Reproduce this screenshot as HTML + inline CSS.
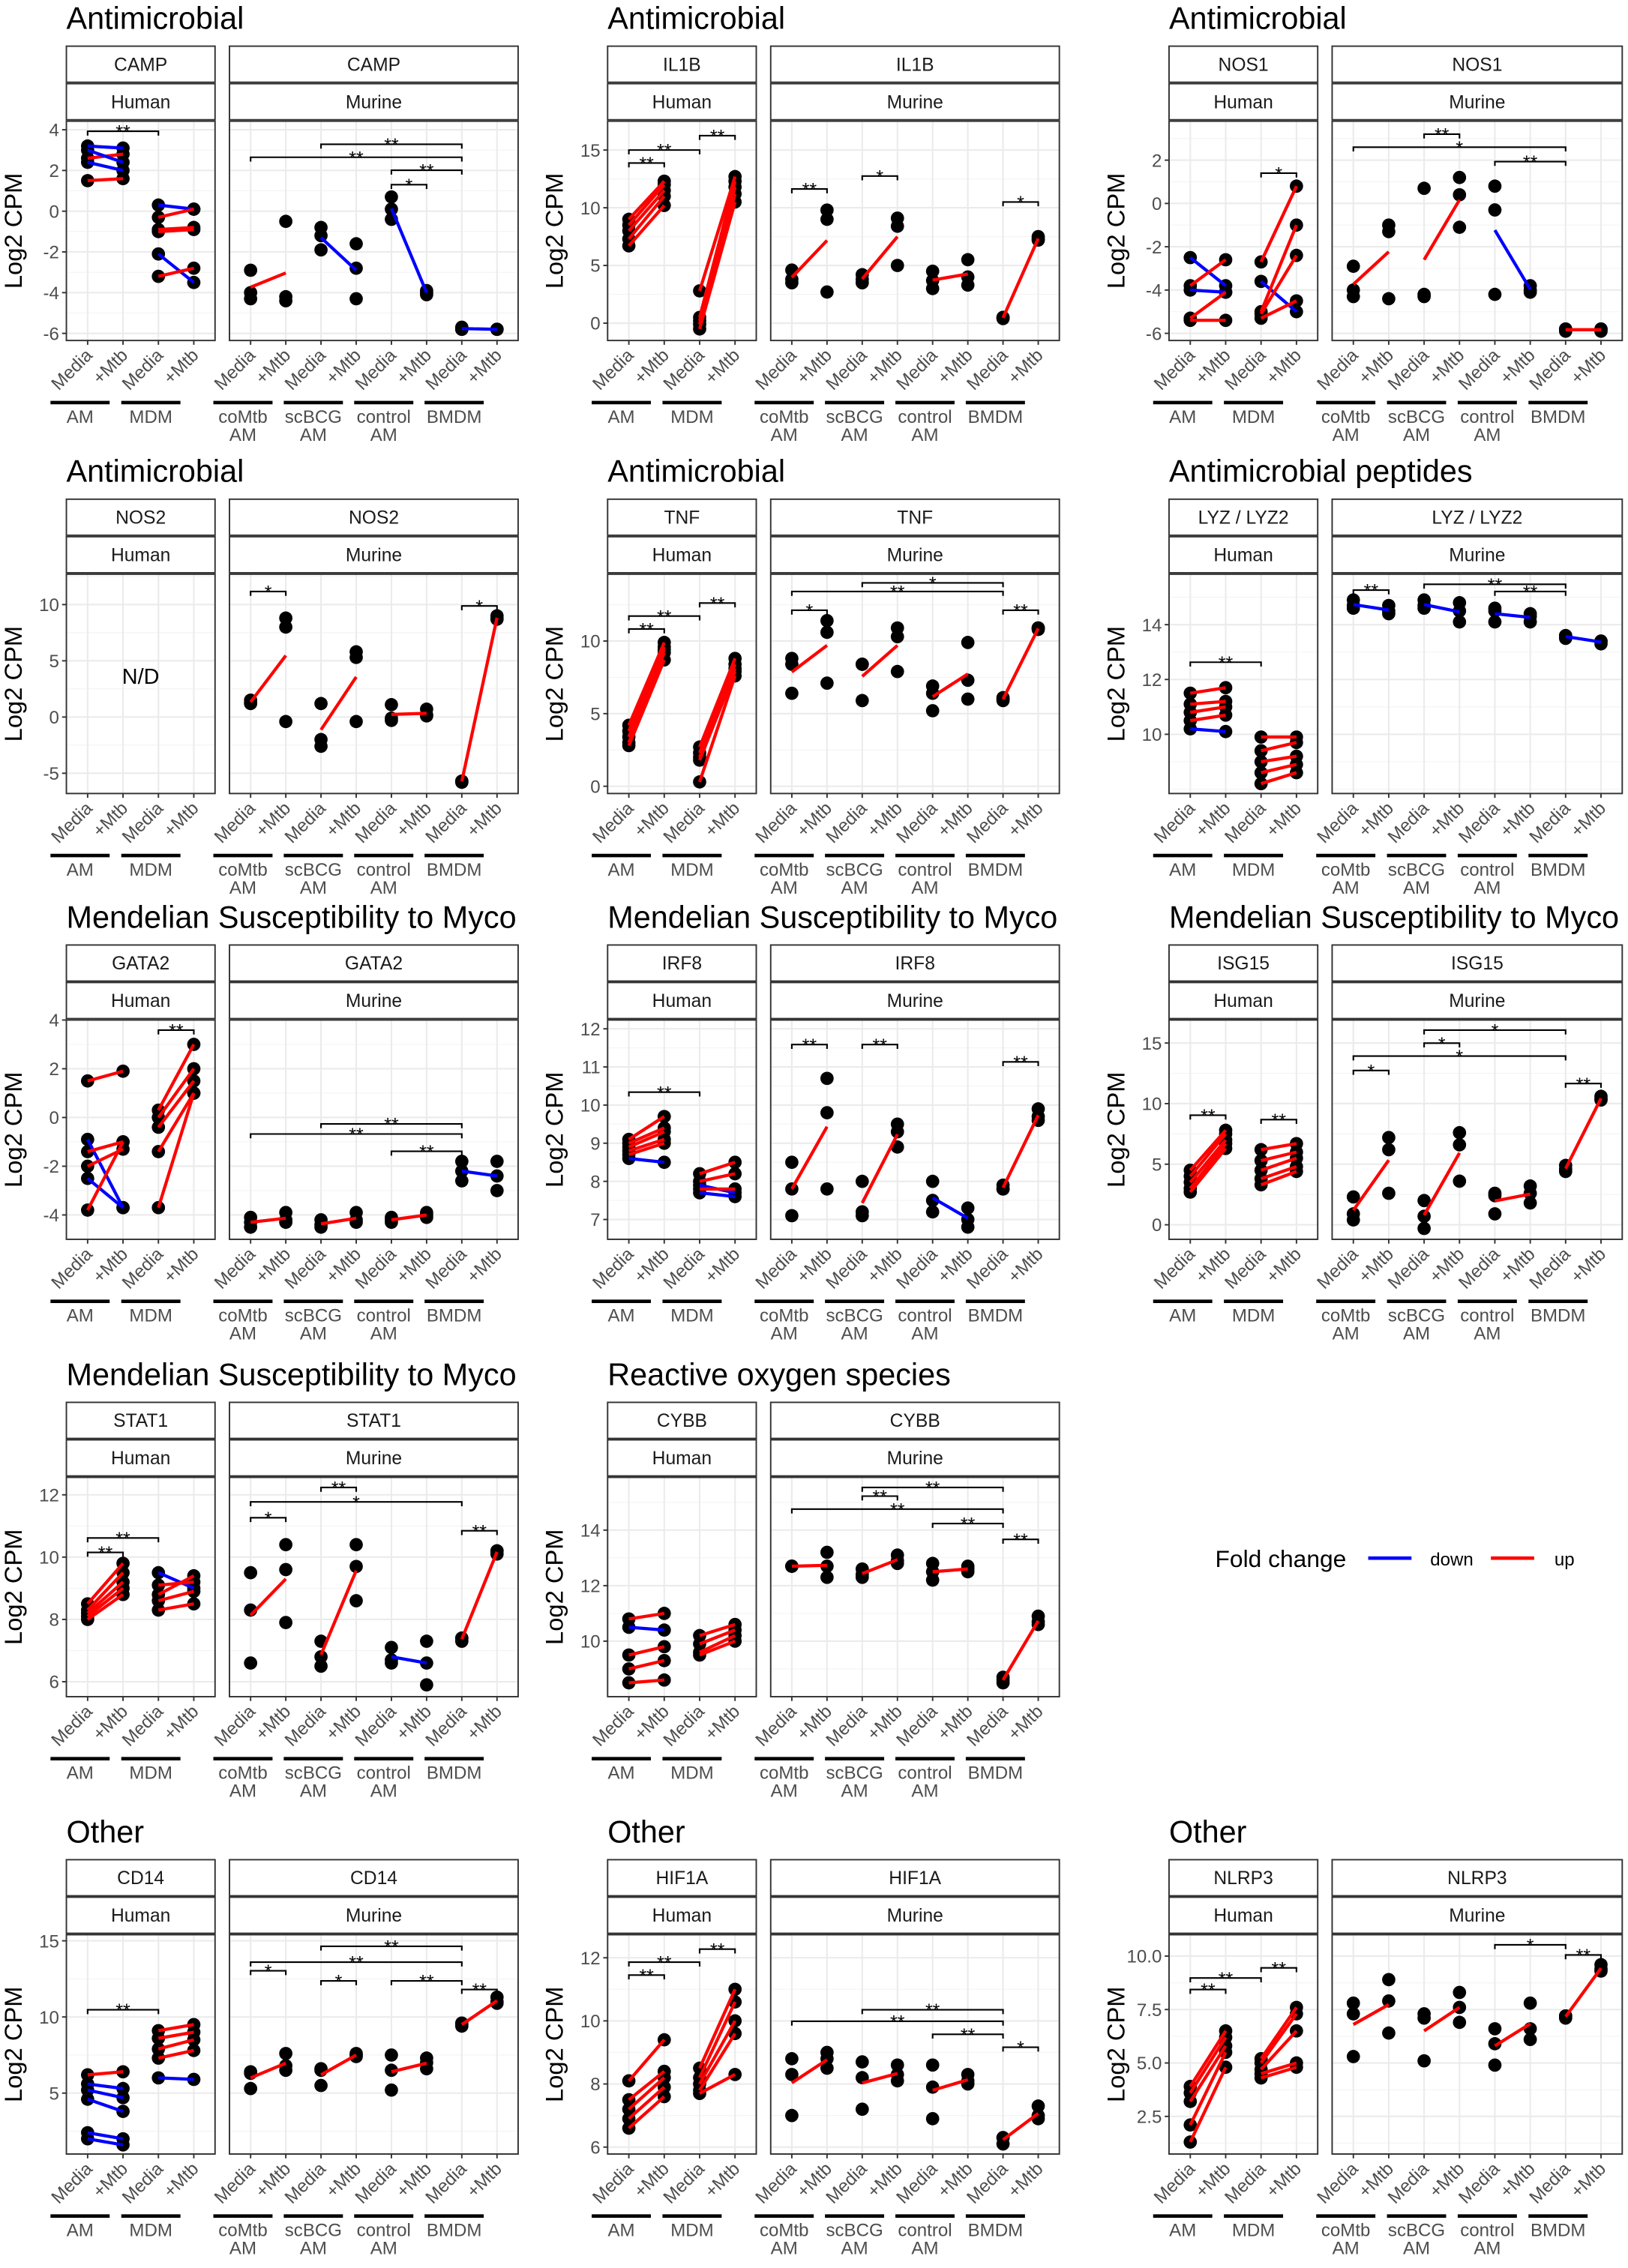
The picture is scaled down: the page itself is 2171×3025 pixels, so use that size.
<!DOCTYPE html>
<html><head><meta charset="utf-8"><style>
html,body{margin:0;padding:0;background:#fff;}
svg{display:block;}
text{font-family:"Liberation Sans",Arial,sans-serif;}
</style></head><body>
<svg id="fig" xmlns="http://www.w3.org/2000/svg" width="2171" height="3025" viewBox="0 0 1128 1572" preserveAspectRatio="none"></svg>
<script>
// ===== DATA =====
// human arrays: [AM Media, AM +Mtb, MDM Media, MDM +Mtb] (paired by donor index)
// murine arrays: 8 groups: coMtb Media, coMtb +Mtb, scBCG Media, scBCG +Mtb, control Media, control +Mtb, BMDM Media, BMDM +Mtb
const CAMP_ticks=[4,2,0,-2,-4,-6];
const CAMP_human=[[3.2,2.6,2.4,3.0,1.5],[3.1,2.8,2.0,2.4,1.6],[0.3,-0.3,-0.9,-1.0,-2.1,-3.2],[0.1,0.1,-0.8,-0.9,-3.5,-2.8]];
const CAMP_murine=[[-2.9,-4.0,-4.3],[-0.5,-4.2,-4.4],[-0.8,-1.2,-1.9],[-1.6,-2.8,-4.3],[0.7,0.1,-0.4],[-3.9,-4.0,-4.1],[-5.7,-5.8,-5.8],[-5.8,-5.8,-5.8]];
const CAMP_brk_h=[[0,2,7,'**']];
const CAMP_brk_m=[[2,6,16,'**'],[0,6,25,'**'],[4,6,34,'**'],[4,5,44,'*']];

const IL1B_ticks=[15,10,5,0];
const IL1B_human=[[9,8.5,8,7.3,6.7],[12.3,12,11.5,11,10.2],[2.8,0.5,0.2,-0.1,-0.5],[12.7,12.3,11.8,11.2,10.5]];
const IL1B_murine=[[4.6,3.8,3.5],[9.8,9.0,2.7],[4.2,3.8,3.5],[9.1,8.4,5.0],[4.5,3.7,3.0],[5.5,4.0,3.3],[0.5,0.4,0.5],[7.5,7.2,7.3]];
const IL1B_brk_h=[[0,1,29,'**'],[0,2,20,'**'],[2,3,10,'**']];
const IL1B_brk_m=[[0,1,47,'**'],[2,3,38,'*'],[6,7,56,'*']];

const NOS1_ticks=[2,0,-2,-4,-6];
const NOS1_human=[[-2.5,-3.8,-4.0,-5.3,-5.4],[-3.8,-2.6,-4.1,-4.1,-5.4],[-2.7,-3.6,-5.0,-5.1,-5.3],[0.8,-5.0,-1.0,-2.4,-4.5]];
const NOS1_murine=[[-2.9,-4.0,-4.3],[-1.0,-1.3,-4.4],[0.7,-4.2,-4.3],[1.2,0.4,-1.1],[0.8,-0.3,-4.2],[-3.8,-4.0,-4.1],[-5.8,-5.9,-5.8],[-5.8,-5.8,-5.9]];
const NOS1_brk_h=[[2,3,36,'*']];
const NOS1_brk_m=[[2,3,9,'**'],[0,6,18,'*'],[4,6,28,'**']];

const NOS2_ticks=[10,5,0,-5];
const NOS2_human=[[],[],[],[]];
const NOS2_murine=[[1.5,1.2,1.3],[8.8,8.0,-0.4],[1.2,-2.0,-2.6],[5.8,5.3,-0.4],[1.1,-0.1,-0.3],[0.7,0.2,0.1],[-5.7,-5.8,-5.7],[9.0,8.7,8.8]];
const NOS2_brk_h=[];
const NOS2_brk_m=[[0,1,12,'*'],[6,7,22,'*']];

const TNF_ticks=[10,5,0];
const TNF_human=[[4.2,3.8,3.4,3.0,2.8],[9.9,9.6,9.4,9.2,8.7],[2.7,2.3,2.0,1.8,0.3],[8.8,8.4,8.1,7.9,7.6]];
const TNF_murine=[[8.8,8.4,6.4],[11.4,10.6,7.1],[8.4,8.4,5.9],[10.9,10.3,7.9],[6.9,6.4,5.2],[9.9,7.3,6.0],[6.0,5.9,6.1],[10.9,10.8,10.9]];
const TNF_brk_h=[[0,1,38,'**'],[0,2,29,'**'],[2,3,20,'**']];
const TNF_brk_m=[[0,1,25,'*'],[2,6,6,'*'],[0,6,12,'**'],[6,7,25,'**']];

const LYZ_ticks=[14,12,10];
const LYZ_human=[[11.5,11.1,10.8,10.5,10.2],[11.7,11.2,11.0,10.7,10.1],[9.9,9.4,9.0,8.6,8.2],[9.9,9.7,9.2,8.9,8.6]];
const LYZ_murine=[[14.9,14.7,14.6],[14.7,14.5,14.4],[14.9,14.7,14.6],[14.8,14.5,14.1],[14.6,14.5,14.1],[14.4,14.3,14.1],[13.6,13.5,13.6],[13.4,13.3,13.4]];
const LYZ_brk_h=[[0,2,61,'**']];
const LYZ_brk_m=[[0,1,11,'**'],[2,6,7,'**'],[4,6,12,'**']];

const GATA2_ticks=[4,2,0,-2,-4];
const GATA2_human=[[1.5,-0.9,-1.4,-2.0,-2.5,-3.8],[1.9,-3.7,-1.0,-1.3,-3.7,-1.0],[0.3,0.0,-0.4,-1.4,-3.7],[3.0,2.0,1.5,1.0,1.0]];
const GATA2_murine=[[-4.1,-4.3,-4.5],[-3.9,-4.2,-4.3],[-4.2,-4.5,-4.4],[-3.9,-4.2,-4.3],[-4.1,-4.2,-4.3],[-3.9,-4.0,-4.1],[-1.8,-2.2,-2.6],[-1.8,-2.4,-3.0]];
const GATA2_brk_h=[[2,3,7,'**']];
const GATA2_brk_m=[[2,6,72,'**'],[0,6,79,'**'],[4,6,91,'**']];

const IRF8_ticks=[12,11,10,9,8,7];
const IRF8_human=[[9.1,9.0,8.9,8.8,8.7,8.6],[9.7,9.4,9.3,9.1,9.0,8.5],[8.2,8.0,7.9,7.8,7.7],[8.5,8.2,7.7,7.8,7.6]];
const IRF8_murine=[[8.5,7.8,7.1],[10.7,9.8,7.8],[8.0,7.2,7.1],[9.5,9.3,8.9],[8.0,7.5,7.2],[7.3,7.0,6.8],[7.9,7.8,7.8],[9.9,9.7,9.6]];
const IRF8_brk_h=[[0,2,50,'**']];
const IRF8_brk_m=[[0,1,17,'**'],[2,3,17,'**'],[6,7,29,'**']];

const ISG15_ticks=[15,10,5,0];
const ISG15_human=[[4.5,4.0,3.5,3.0,2.7],[7.8,7.5,7.0,6.7,6.3],[6.2,5.3,4.5,3.8,3.3],[6.7,6.0,5.5,4.8,4.4]];
const ISG15_murine=[[2.3,0.9,0.4],[7.2,6.2,2.6],[2.0,0.7,-0.3],[7.6,6.6,3.6],[2.6,2.4,0.9],[3.2,2.6,1.8],[4.9,4.6,4.4],[10.6,10.4,10.3]];
const ISG15_brk_h=[[0,1,66,'**'],[2,3,69,'**']];
const ISG15_brk_m=[[2,6,7,'*'],[2,3,16,'*'],[0,6,25,'*'],[0,1,35,'*'],[6,7,44,'**']];

const STAT1_ticks=[12,10,8,6];
const STAT1_human=[[8.5,8.3,8.2,8.1,8.0],[9.8,9.5,9.2,9.0,8.8],[9.5,9.1,8.8,8.6,8.3],[9.0,9.2,9.4,8.9,8.5]];
const STAT1_murine=[[9.5,8.3,6.6],[10.4,9.6,7.9],[7.3,6.8,6.5],[10.4,9.7,8.6],[7.1,6.7,6.6],[7.3,6.6,5.9],[7.4,7.3,7.4],[10.2,10.2,10.1]];
const STAT1_brk_h=[[0,1,52,'**'],[0,2,42,'**']];
const STAT1_brk_m=[[2,3,7,'**'],[0,6,17,'*'],[0,1,28,'*'],[6,7,37,'**']];

const CYBB_ticks=[14,12,10];
const CYBB_human=[[10.8,10.5,9.5,9.0,8.5],[11.0,10.4,9.8,9.3,8.6],[10.2,9.9,9.6,9.5],[10.6,10.4,10.2,10.0]];
const CYBB_murine=[[12.7,12.7,12.7],[13.2,12.7,12.3],[12.6,12.4,12.3],[13.1,12.9,12.8],[12.8,12.5,12.2],[12.7,12.6,12.5],[8.7,8.6,8.5],[10.9,10.6,10.7]];
const CYBB_brk_h=[];
const CYBB_brk_m=[[2,6,7,'**'],[2,3,13,'**'],[0,6,22,'**'],[4,6,32,'**'],[6,7,43,'**']];

const CD14_ticks=[15,10,5];
const CD14_human=[[6.2,5.6,5.2,4.6,2.4,2.0],[6.4,5.3,4.7,3.8,2.0,1.6],[9.1,8.6,7.9,7.3,6.0],[9.5,9.0,8.5,7.8,5.9]];
const CD14_murine=[[6.4,6.3,5.3],[7.6,6.8,6.5],[6.6,6.5,5.5],[7.6,7.5,7.4],[7.5,6.5,5.2],[7.3,7.0,6.6],[9.6,9.5,9.4],[11.3,11.0,10.9]];
const CD14_brk_h=[[0,2,52,'**']];
const CD14_brk_m=[[2,6,8,'**'],[0,6,19,'**'],[0,1,25,'*'],[2,3,32,'*'],[4,6,32,'**'],[6,7,38,'**']];

const HIF1A_ticks=[12,10,8,6];
const HIF1A_human=[[8.1,7.5,7.2,6.9,6.6],[9.4,8.4,8.2,7.9,7.6],[8.5,8.2,8.0,7.8,7.7],[11.0,10.6,10.0,9.6,8.3]];
const HIF1A_murine=[[8.8,8.3,7.0],[9.0,8.8,8.5],[8.7,8.2,7.2],[8.6,8.3,8.1],[8.6,7.9,6.9],[8.3,8.1,8.0],[6.3,6.1,6.3],[7.3,7.0,6.9]];
const HIF1A_brk_h=[[0,1,28,'**'],[0,2,19,'**'],[2,3,10,'**']];
const HIF1A_brk_m=[[2,6,52,'**'],[0,6,60,'**'],[4,6,69,'**'],[6,7,78,'*']];

const NLRP3_ticks=[10.0,7.5,5.0,2.5];
const NLRP3_human=[[3.9,3.6,3.2,2.1,1.3],[6.5,6.2,5.8,5.5,4.8],[5.2,5.0,4.7,4.5,4.3],[7.6,7.3,6.5,5.0,4.8]];
const NLRP3_murine=[[7.8,7.3,5.3],[8.9,7.9,6.4],[7.3,7.1,5.1],[8.3,7.6,6.9],[6.6,5.9,4.9],[7.8,6.6,6.1],[7.2,7.1,7.2],[9.6,9.4,9.3]];
const NLRP3_brk_h=[[0,1,38,'**'],[0,2,30,'**'],[2,3,23,'**']];
const NLRP3_brk_m=[[4,6,7,'*'],[6,7,14,'**']];

// ===== LAYOUT =====
const NS='http://www.w3.org/2000/svg';
const svg=document.getElementById('fig');
const COLS=[[46,149,159,359],[421,524,534,734],[810,913,923,1124]];
const ROWS=[32,346,655,972,1289];
const charts=[
 {c:0,r:0,title:'Antimicrobial',gene:'CAMP',t:CAMP_ticks,lo:-6.35,hi:4.42,h:CAMP_human,m:CAMP_murine,bh:CAMP_brk_h,bm:CAMP_brk_m,fmt:0},
 {c:1,r:0,title:'Antimicrobial',gene:'IL1B',t:IL1B_ticks,lo:-1.5,hi:17.5,h:IL1B_human,m:IL1B_murine,bh:IL1B_brk_h,bm:IL1B_brk_m,fmt:0},
 {c:2,r:0,title:'Antimicrobial',gene:'NOS1',t:NOS1_ticks,lo:-6.33,hi:3.8,h:NOS1_human,m:NOS1_murine,bh:NOS1_brk_h,bm:NOS1_brk_m,fmt:0},
 {c:0,r:1,title:'Antimicrobial',gene:'NOS2',t:NOS2_ticks,lo:-6.8,hi:12.7,h:NOS2_human,m:NOS2_murine,bh:NOS2_brk_h,bm:NOS2_brk_m,fmt:0,nd:true},
 {c:1,r:1,title:'Antimicrobial',gene:'TNF',t:TNF_ticks,lo:-0.5,hi:14.6,h:TNF_human,m:TNF_murine,bh:TNF_brk_h,bm:TNF_brk_m,fmt:0},
 {c:2,r:1,title:'Antimicrobial peptides',gene:'LYZ / LYZ2',t:LYZ_ticks,lo:7.84,hi:15.84,h:LYZ_human,m:LYZ_murine,bh:LYZ_brk_h,bm:LYZ_brk_m,fmt:0},
 {c:0,r:2,title:'Mendelian Susceptibility to Myco',gene:'GATA2',t:GATA2_ticks,lo:-5,hi:4.0,h:GATA2_human,m:GATA2_murine,bh:GATA2_brk_h,bm:GATA2_brk_m,fmt:0},
 {c:1,r:2,title:'Mendelian Susceptibility to Myco',gene:'IRF8',t:IRF8_ticks,lo:6.48,hi:12.23,h:IRF8_human,m:IRF8_murine,bh:IRF8_brk_h,bm:IRF8_brk_m,fmt:0},
 {c:2,r:2,title:'Mendelian Susceptibility to Myco',gene:'ISG15',t:ISG15_ticks,lo:-1.2,hi:16.9,h:ISG15_human,m:ISG15_murine,bh:ISG15_brk_h,bm:ISG15_brk_m,fmt:0},
 {c:0,r:3,title:'Mendelian Susceptibility to Myco',gene:'STAT1',t:STAT1_ticks,lo:5.52,hi:12.56,h:STAT1_human,m:STAT1_murine,bh:STAT1_brk_h,bm:STAT1_brk_m,fmt:0},
 {c:1,r:3,title:'Reactive oxygen species',gene:'CYBB',t:CYBB_ticks,lo:8.0,hi:15.9,h:CYBB_human,m:CYBB_murine,bh:CYBB_brk_h,bm:CYBB_brk_m,fmt:0},
 {c:0,r:4,title:'Other',gene:'CD14',t:CD14_ticks,lo:1.0,hi:15.4,h:CD14_human,m:CD14_murine,bh:CD14_brk_h,bm:CD14_brk_m,fmt:0},
 {c:1,r:4,title:'Other',gene:'HIF1A',t:HIF1A_ticks,lo:5.78,hi:12.73,h:HIF1A_human,m:HIF1A_murine,bh:HIF1A_brk_h,bm:HIF1A_brk_m,fmt:0},
 {c:2,r:4,title:'Other',gene:'NLRP3',t:NLRP3_ticks,lo:0.74,hi:11.0,h:NLRP3_human,m:NLRP3_murine,bh:NLRP3_brk_h,bm:NLRP3_brk_m,fmt:1},
];
const PH=152;
function el(tag,attrs,parent,txt){const e=document.createElementNS(NS,tag);for(const k in attrs)e.setAttribute(k,attrs[k]);if(txt!==undefined)e.textContent=txt;(parent||svg).appendChild(e);return e;}
const mean=a=>a.reduce((s,v)=>s+v,0)/a.length;
const RED='#ff0000',BLUE='#0000ff';

charts.forEach(ch=>{
  const [hx0,hx1,mx0,mx1]=COLS[ch.c];
  const T=ROWS[ch.r], top=T+52, bot=top+PH;
  const gname=ch.gene.toLowerCase().replace(/[^a-z0-9]+/g,'-');
  const g=el('g',{});
  
  
  const yS=v=>top+(ch.hi-v)/(ch.hi-ch.lo)*PH;
  const xH=i=>hx0+(i+0.6)/4.2*(hx1-hx0);
  const xM=i=>mx0+(i+0.6)/8.2*(mx1-mx0);
  // title
  const tt=el('text',{x:hx0,y:T-12,'font-size':21.5,fill:'#000'},g,ch.title);
  
  
  const step=ch.t.length>1?ch.t[0]-ch.t[1]:1;
  [[hx0,hx1,xH,4,'Human',ch.h,ch.bh],[mx0,mx1,xM,8,'Murine',ch.m,ch.bm]].forEach(([x0,x1,xf,n,sp,data,brks])=>{
    const pg=el('g',{},g);
    
    
    // strips
    el('rect',{x:x0,y:T,width:x1-x0,height:25,fill:'#fff',stroke:'#333','stroke-width':1},pg);
    el('text',{x:(x0+x1)/2,y:T+17,'text-anchor':'middle','font-size':12.8,fill:'#1a1a1a'},pg,ch.gene);
    el('rect',{x:x0,y:T+26,width:x1-x0,height:25,fill:'#fff',stroke:'#333','stroke-width':1},pg);
    el('text',{x:(x0+x1)/2,y:T+43,'text-anchor':'middle','font-size':12.8,fill:'#1a1a1a'},pg,sp);
    // panel bg
    el('rect',{x:x0,y:top,width:x1-x0,height:PH,fill:'#fff'},pg);
    // grid minor
    const tmin=Math.min(...ch.t)-step, tmax=Math.max(...ch.t)+step;
    for(let v=tmin;v<=tmax+1e-9;v+=step/2){
      const y=yS(v); if(y<top||y>bot) continue;
      const major=ch.t.some(t=>Math.abs(t-v)<1e-9);
      el('line',{x1:x0,x2:x1,y1:y,y2:y,stroke:major?'#ebebeb':'#f4f4f4','stroke-width':major?1.1:0.6},pg);
    }
    for(let i=0;i<n;i++) el('line',{x1:xf(i),x2:xf(i),y1:top,y2:bot,stroke:'#ebebeb','stroke-width':1.1},pg);
    // points
    data.forEach((arr,i)=>arr.forEach(v=>{
      const p=el('circle',{cx:xf(i),cy:yS(v),r:4.6,fill:'#000'},pg);
      
      
    }));
    // lines
    if(sp==='Human'){
      [0,2].forEach(k=>{
        const a=data[k],b=data[k+1];
        for(let j=0;j<Math.min(a.length,b.length);j++){
          const ln=el('line',{x1:xf(k),y1:yS(a[j]),x2:xf(k+1),y2:yS(b[j]),stroke:b[j]>=a[j]?RED:BLUE,'stroke-width':2.2},pg);
          
          
        }
      });
    } else {
      [0,2,4,6].forEach(k=>{
        const a=mean(data[k]),b=mean(data[k+1]);
        const ln=el('line',{x1:xf(k),y1:yS(a),x2:xf(k+1),y2:yS(b),stroke:b>=a?RED:BLUE,'stroke-width':2.2},pg);
        
        
      });
    }
    // brackets
    brks.forEach(([i,j,off,lab])=>{
      const y=top+off, xa=xf(i), xb=xf(j);
      const bg=el('g',{},pg);
      
      
      el('path',{d:`M${xa},${y+3}V${y}H${xb}V${y+3}`,fill:'none',stroke:'#000','stroke-width':1.1},bg);
      el('text',{x:(xa+xb)/2,y:y+5,'text-anchor':'middle','font-size':13,fill:'#000'},bg,lab);
    });
    // border
    el('rect',{x:x0,y:top,width:x1-x0,height:PH,fill:'none',stroke:'#333','stroke-width':1},pg);
    // x ticks and labels
    for(let i=0;i<n;i++){
      const x=xf(i);
      el('line',{x1:x,x2:x,y1:bot,y2:bot+3,stroke:'#333','stroke-width':1},pg);
      const lb=el('text',{x:0,y:0,'text-anchor':'end','font-size':12.5,fill:'#4d4d4d',transform:`translate(${x+4},${bot+11}) rotate(-45)`},pg,i%2===0?'Media':'+Mtb');
      
      
    }
    // group labels
    const groups=sp==='Human'?[['AM'],['MDM']]:[['coMtb','AM'],['scBCG','AM'],['control','AM'],['BMDM']];
    groups.forEach((gl,k)=>{
      const cx=(xf(2*k)+xf(2*k+1))/2-17.5;
      el('line',{x1:cx-20.5,x2:cx+20.5,y1:279,y2:279,stroke:'#000','stroke-width':2.4,transform:`translate(0,${T-32})`},pg);
      gl.forEach((s,q)=>{
        const t=el('text',{x:cx,y:T-32+293+q*12.5,'text-anchor':'middle','font-size':12.5,fill:'#4d4d4d'},pg,s);
        
        
      });
    });
    if(sp==='Human' && ch.nd){
      el('text',{x:(x0+x1)/2,y:top+76,'text-anchor':'middle','font-size':15,fill:'#000'},pg,'N/D');
    }
  });
  // y axis
  ch.t.forEach(v=>{
    const y=yS(v);
    el('line',{x1:hx0-3,x2:hx0,y1:y,y2:y,stroke:'#333','stroke-width':1},g);
    const lb=el('text',{x:hx0-5,y:y+4.5,'text-anchor':'end','font-size':12.5,fill:'#4d4d4d'},g,ch.fmt?v.toFixed(1):String(v));
    
    
  });
  const yt=el('text',{x:0,y:0,'text-anchor':'middle','font-size':17,fill:'#000',transform:`translate(${hx0-31},${top+PH/2}) rotate(-90)`},g,'Log2 CPM');
  
  
});
// legend
const lg=el('g',{});


el('text',{x:842,y:1086,'font-size':16.5,fill:'#000'},lg,'Fold change');
el('line',{x1:948,x2:978,y1:1080,y2:1080,stroke:BLUE,'stroke-width':2.4},lg);
el('text',{x:991,y:1085,'font-size':12.5,fill:'#000'},lg,'down');
el('line',{x1:1033,x2:1063,y1:1080,y2:1080,stroke:RED,'stroke-width':2.4},lg);
el('text',{x:1077,y:1085,'font-size':12.5,fill:'#000'},lg,'up');
</script>
</body></html>
